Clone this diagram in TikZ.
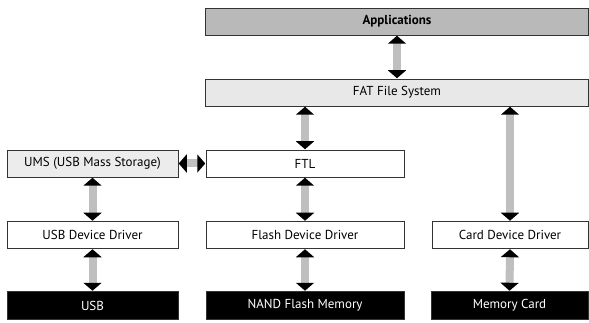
\documentclass[tikz,border=0pt]{standalone}
\usepackage{fontspec}
\setmainfont{PT Sans}
\usetikzlibrary{arrows.meta}
\begin{document}
\begin{tikzpicture}[x=1pt,y=-1pt,
  box/.style={draw=black!80,line width=0.5pt,inner sep=0pt,font=\fontsize{13}{15}\selectfont},
  bigarrow/.style={draw=gray!50,line width=8pt,
     {Triangle[width=18pt,length=8pt,color=black]}-{Triangle[width=18pt,length=8pt,color=black]},shorten <=0.5pt,shorten >=0.5pt},
  blk/.style={box,fill=black,text=white}]
\useasboundingbox (0,0) rectangle (589,323);
\node[box,fill=gray!55,minimum width=383pt,minimum height=27pt,font=\fontsize{13}{15}\selectfont\bfseries] (app) at (397,21.5) {Applications};
\node[box,fill=gray!18,minimum width=383pt,minimum height=27pt] (fat) at (397,92.5) {FAT File System};
\node[box,fill=gray!15,minimum width=171pt,minimum height=27pt] (ums) at (92.5,163.5) {UMS (USB Mass Storage)};
\node[box,fill=white,minimum width=198pt,minimum height=27pt] (ftl) at (305,163.5) {FTL};
\node[box,fill=white,minimum width=171pt,minimum height=27pt] (usbdd) at (92.5,235) {USB Device Driver};
\node[box,fill=white,minimum width=198pt,minimum height=27pt] (fdd) at (305,235) {Flash Device Driver};
\node[box,fill=white,minimum width=156pt,minimum height=27pt] (cdd) at (510,235) {Card Device Driver};
\node[blk,minimum width=171pt,minimum height=28pt] (usb) at (92.5,305.5) {USB};
\node[blk,minimum width=198pt,minimum height=28pt] (nand) at (305,305.5) {NAND Flash Memory};
\node[blk,minimum width=157pt,minimum height=28pt] (mc) at (509.5,305.5) {Memory Card};
\draw[bigarrow] (app.south) -- (fat.north);
\draw[bigarrow] (fat.south -| ftl.north) -- (ftl.north);
\draw[bigarrow] (fat.south -| cdd.north) -- (cdd.north);
\draw[bigarrow] (ums.east) -- (ftl.west);
\draw[bigarrow] (ums.south) -- (usbdd.north);
\draw[bigarrow] (ftl.south) -- (fdd.north);
\draw[bigarrow] (usbdd.south) -- (usb.north);
\draw[bigarrow] (fdd.south) -- (nand.north);
\draw[bigarrow] (cdd.south) -- (mc.north);
\end{tikzpicture}
\end{document}
